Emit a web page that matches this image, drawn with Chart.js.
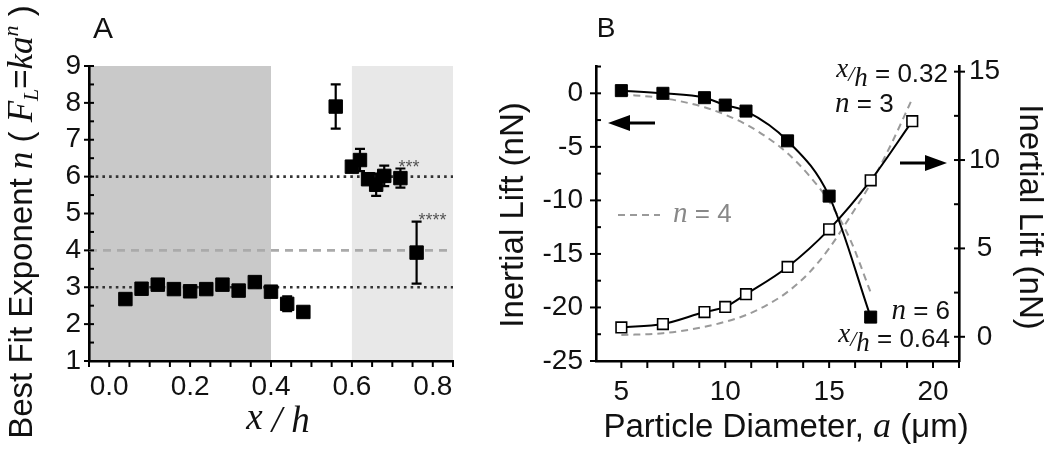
<!DOCTYPE html>
<html>
<head>
<meta charset="utf-8">
<script src="https://cdn.jsdelivr.net/npm/chart.js@4.4.1/dist/chart.umd.min.js"></script>
<style>
  html, body { margin: 0; padding: 0; background: #fff; }
  #wrap { position: relative; width: 1050px; height: 452px; overflow: hidden; }
  #boxA { position: absolute; left: 0; top: 0; }
  #boxB { position: absolute; left: 480px; top: 0; }
</style>
</head>
<body>
<div id="wrap">
  <div id="boxA"><canvas id="chartA" width="480" height="452"></canvas></div>
  <div id="boxB"><canvas id="chartB" width="570" height="452"></canvas></div>
</div>
<script>
// ---- Panel A: best fit exponent vs x/h ----
const aPos = [0.04, 0.08, 0.12, 0.16, 0.20, 0.24, 0.28, 0.32, 0.36, 0.40, 0.44, 0.48,
              0.56, 0.60, 0.62, 0.64, 0.66, 0.68, 0.72, 0.76];
const aExp = [2.68, 2.96, 3.07, 2.95, 2.89, 2.95, 3.07, 2.91, 3.14, 2.88, 2.55, 2.33,
              7.90, 6.27, 6.45, 5.93, 5.78, 6.02, 5.96, 3.94];
const aErr = [0, 0, 0, 0, 0, 0, 0, 0, 0, 0, 0.2, 0.12,
              0.6, 0.12, 0.3, 0.12, 0.3, 0.28, 0.26, 0.84];
const aStars = { 18: '***', 19: '****' };   // significance marks by point index
const aBandFrom = [-0.05, 0.6];
const aBandTo = [0.4, 0.85];
const aDotted = [3, 6];
const aDashed = [4];
const aXLabels = [0.0, 0.2, 0.4, 0.6, 0.8];
const aYLabels = [1, 2, 3, 4, 5, 6, 7, 8, 9];

// ---- Panel B: inertial lift vs particle diameter ----
const bDiam = [5, 7, 9, 10, 11, 13, 15, 17];
const bLiftFar = [0.25, 0.0, -0.41, -1.1, -1.66, -4.44, -9.6, -20.9];        // x/h = 0.64, left axis
const bDiamOpen = [5, 7, 9, 10, 11, 13, 15, 17, 19];
const bLiftNear = [0.53, 0.72, 1.40, 1.69, 2.41, 3.95, 6.08, 8.85, 12.2];    // x/h = 0.32, right axis
const bFitDiamFar = [5, 7, 9, 10, 11, 12, 13, 14, 15, 16, 17];
const bFitFar = [-0.1, -0.45, -1.3, -2.0, -2.9, -4.1, -5.6, -7.6, -10.1, -13.6, -18.6];
const bFitDiamNear = [5, 7, 9, 10, 11, 12, 13, 14, 15, 16, 17, 18, 19];
const bFitNear = [0.1, 0.2, 0.56, 0.85, 1.23, 1.79, 2.54, 3.58, 5.0, 6.78, 8.67, 10.93, 13.47];
const bXLabels = [5, 10, 15, 20];
const bYLLabels = [-25, -20, -15, -10, -5, 0];
const bYRLabels = [0, 5, 10, 15];

const SANS = '"Liberation Sans", Arial, Helvetica, sans-serif';
const SERIF = '"Liberation Serif", "Times New Roman", serif';
const f = (size, italic, fam) => (italic ? 'italic ' : '') + size + 'px ' + (fam || SANS);
const INK = '#111';

Chart.defaults.font.family = SANS;
Chart.defaults.color = INK;

function drawRich(ctx, parts, x, y, align, rot) {
  ctx.save();
  ctx.translate(x, y);
  if (rot) ctx.rotate(rot);
  ctx.textAlign = 'left';
  ctx.textBaseline = 'alphabetic';
  let w = 0;
  parts.forEach(p => { ctx.font = p.f; p.w = ctx.measureText(p.t).width; w += p.w; });
  let cx = align === 'right' ? -w : align === 'center' ? -w / 2 : 0;
  parts.forEach(p => {
    ctx.font = p.f;
    ctx.fillStyle = p.c || INK;
    ctx.fillText(p.t, cx, p.dy || 0);
    cx += p.w;
  });
  ctx.restore();
}

// tick marks: major ones cross the axis, minor ones point inward (y) / outward (x)
function drawTicks(chart, spec) {
  const ctx = chart.ctx;
  ctx.save();
  ctx.strokeStyle = '#000';
  ctx.lineWidth = 2;
  Object.keys(spec).forEach(id => {
    const s = chart.scales[id];
    const t = spec[id];
    const n = Math.round((t.to - t.from) / t.step);
    for (let i = 0; i <= n; i++) {
      const v = +(t.from + i * t.step).toFixed(4);
      if (v < s.min - 1e-6 || v > s.max + 1e-6) continue;
      const p = s.getPixelForValue(v);
      const major = t.major.includes(v);
      ctx.beginPath();
      if (s.isHorizontal()) {
        ctx.moveTo(p, s.top);
        ctx.lineTo(p, s.top + t.out);
      } else {
        const edge = s.position === 'left' ? s.right : s.left;
        const dir = s.position === 'left' ? -1 : 1;
        ctx.moveTo(edge - dir * t.inn, p);
        ctx.lineTo(edge + dir * (major ? t.out : 0), p);
      }
      ctx.stroke();
    }
  });
  ctx.restore();
}

// ================= chart A =================
const panelA = {
  id: 'panelA',
  beforeDraw(chart) {
    const { ctx, chartArea: ca, scales: { x } } = chart;
    const shades = ['#c9c9c9', '#e8e8e8'];
    ctx.save();
    aBandFrom.forEach((from, i) => {
      const x0 = x.getPixelForValue(from), x1 = x.getPixelForValue(aBandTo[i]);
      ctx.fillStyle = shades[i];
      ctx.fillRect(x0, ca.top, x1 - x0, ca.bottom - ca.top);
    });
    ctx.restore();
  },
  afterDatasetsDraw(chart) {
    const { ctx, scales: { x, y } } = chart;
    ctx.save();
    ctx.strokeStyle = '#000';
    ctx.lineWidth = 2.2;
    aPos.forEach((v, i) => {
      if (!aErr[i]) return;
      const px = x.getPixelForValue(v);
      const hi = y.getPixelForValue(aExp[i] + aErr[i]);
      const lo = y.getPixelForValue(aExp[i] - aErr[i]);
      ctx.beginPath();
      ctx.moveTo(px, hi); ctx.lineTo(px, lo);
      ctx.moveTo(px - 5, hi); ctx.lineTo(px + 5, hi);
      ctx.moveTo(px - 5, lo); ctx.lineTo(px + 5, lo);
      ctx.stroke();
    });
    ctx.fillStyle = '#555';
    ctx.font = f(18);
    ctx.textAlign = 'left';
    ctx.textBaseline = 'alphabetic';
    Object.keys(aStars).forEach(k => {
      const i = +k;
      const px = x.getPixelForValue(aPos[i]);
      const py = y.getPixelForValue(aExp[i] + aErr[i]);
      ctx.fillText(aStars[k], px - 2 + i % 2 * 4, py + 4);
    });
    ctx.restore();
  },
  afterDraw(chart) {
    const ctx = chart.ctx;
    drawTicks(chart, {
      x: { from: -0.05, to: 0.85, step: 0.05, major: [], out: 6, inn: 0 },
      y: { from: 1, to: 9, step: 0.5, major: aYLabels, out: 5, inn: 5 }
    });
    drawRich(ctx, [{ t: 'A', f: f(30) }], 103, 38, 'center');
    drawRich(ctx, [
      { t: 'Best Fit Exponent ', f: f(33) },
      { t: 'n', f: f(35, true, SERIF) },
      { t: ' ( ', f: f(33) },
      { t: 'F', f: f(35, true, SERIF) },
      { t: 'L', f: f(22, true, SERIF), dy: 6 },
      { t: '=', f: f(33) },
      { t: 'ka', f: f(35, true, SERIF) },
      { t: 'n', f: f(22, true, SERIF), dy: -14 },
      { t: ' )', f: f(33) }
    ], 32, 222, 'center', -Math.PI / 2);
    drawRich(ctx, [
      { t: 'x', f: f(37, true, SERIF), dy: -3 },
      { t: ' / ', f: f(37, true, SERIF) },
      { t: 'h', f: f(37, true, SERIF) }
    ], 278, 432, 'center');
  }
};

const refSet = (v, style) => Object.assign({
  data: [{ x: -0.05, y: v }, { x: 0.85, y: v }],
  showLine: true, pointRadius: 0, order: 5
}, style);

new Chart(document.getElementById('chartA'), {
  type: 'scatter',
  data: {
    datasets: [
      ...aDotted.map(v => refSet(v, { borderColor: '#333', borderWidth: 2.6, borderDash: [2.6, 4.1] })),
      ...aDashed.map(v => refSet(v, { borderColor: '#aaa', borderWidth: 2.6, borderDash: [8, 6] })),
      {
        data: aPos.map((v, i) => ({ x: v, y: aExp[i] })),
        pointStyle: 'rect', pointRadius: 9.5, pointBackgroundColor: '#000', pointBorderColor: '#000',
        pointBorderWidth: 1, order: 1
      }
    ]
  },
  options: {
    responsive: false, animation: false, devicePixelRatio: 1,
    layout: { padding: { top: 66, right: 27, left: 0, bottom: 0 } },
    plugins: { legend: { display: false }, tooltip: { enabled: false } },
    scales: {
      x: {
        type: 'linear', min: -0.05, max: 0.85,
        afterFit: s => { s.height = 91; },
        afterBuildTicks: s => { s.ticks = aXLabels.map(v => ({ value: v })); },
        grid: { display: true, drawOnChartArea: false, drawTicks: false },
        border: { display: true, color: '#000', width: 2.6 },
        ticks: { font: { size: 28 }, padding: 9, maxRotation: 0, callback: v => v.toFixed(1) }
      },
      y: {
        min: 1, max: 9,
        afterFit: s => { s.width = 89; },
        afterBuildTicks: s => { s.ticks = aYLabels.map(v => ({ value: v })); },
        grid: { display: true, drawOnChartArea: false, drawTicks: false },
        border: { display: true, color: '#000', width: 2.6 },
        ticks: { font: { size: 28 }, padding: 8 }
      }
    }
  },
  plugins: [panelA]
});

// ================= chart B =================
const panelB = {
  id: 'panelB',
  afterDraw(chart) {
    const ctx = chart.ctx;
    drawTicks(chart, {
      x: { from: 3.75, to: 21.25, step: 1.25, major: [], out: 7, inn: 0 },
      yL: { from: -25, to: 2.5, step: 2.5, major: bYLLabels, out: 6, inn: 5 },
      yR: { from: 0, to: 15, step: 2.5, major: bYRLabels, out: 6, inn: 5 }
    });
    drawRich(ctx, [{ t: 'B', f: f(28) }], 126, 37, 'center');
    drawRich(ctx, [{ t: 'Inertial Lift (nN)', f: f(33) }], 43, 215, 'center', -Math.PI / 2);
    drawRich(ctx, [{ t: 'Inertial Lift (nN)', f: f(33) }], 540, 217, 'center', Math.PI / 2);
    drawRich(ctx, [
      { t: 'Particle Diameter, ', f: f(33) },
      { t: 'a', f: f(36, true, SERIF) },
      { t: ' (\u03bcm)', f: f(33) }
    ], 306, 437, 'center');

    const xh = (tail) => [
      { t: 'x', f: f(27, true, SERIF), dy: -5 },
      { t: '/', f: f(22, true, SERIF), dy: -1 },
      { t: 'h', f: f(27, true, SERIF), dy: 4 },
      { t: tail, f: f(26) }
    ];
    drawRich(ctx, xh(' = 0.32'), 468, 82, 'right');
    drawRich(ctx, [{ t: 'n', f: f(29, true, SERIF) }, { t: ' = 3', f: f(26) }], 355, 112, 'left');
    drawRich(ctx, [{ t: 'n', f: f(29, true, SERIF) }, { t: ' = 6', f: f(26) }], 470, 319, 'right');
    drawRich(ctx, xh(' = 0.64'), 470, 347, 'right');

    // "n = 4" key for the dashed fits
    ctx.save();
    ctx.strokeStyle = '#9a9a9a';
    ctx.lineWidth = 2;
    ctx.setLineDash([7, 5]);
    ctx.beginPath(); ctx.moveTo(138, 215); ctx.lineTo(180, 215); ctx.stroke();
    ctx.restore();
    drawRich(ctx, [{ t: 'n', f: f(29, true, SERIF), c: '#888' }, { t: ' = 4', f: f(26), c: '#888' }], 193, 222, 'left');

    // direction arrows
    const arrow = (x0, x1, y) => {
      const dir = Math.sign(x1 - x0);
      ctx.save();
      ctx.fillStyle = '#000'; ctx.strokeStyle = '#000'; ctx.lineWidth = 3;
      ctx.beginPath(); ctx.moveTo(x0, y); ctx.lineTo(x1 - dir * 15, y); ctx.stroke();
      ctx.beginPath();
      ctx.moveTo(x1, y); ctx.lineTo(x1 - dir * 22, y - 8); ctx.lineTo(x1 - dir * 22, y + 8);
      ctx.closePath(); ctx.fill();
      ctx.restore();
    };
    arrow(175, 128, 123);
    arrow(420, 467, 163);
  }
};

const lineXY = (xs, ys) => xs.map((v, i) => ({ x: v, y: ys[i] }));

new Chart(document.getElementById('chartB'), {
  type: 'scatter',
  data: {
    datasets: [
      { data: lineXY(bFitDiamFar, bFitFar), yAxisID: 'yL', showLine: true, pointRadius: 0,
        borderColor: '#9a9a9a', borderWidth: 2, borderDash: [7, 5], cubicInterpolationMode: 'monotone', order: 4 },
      { data: lineXY(bFitDiamNear, bFitNear), yAxisID: 'yR', showLine: true, pointRadius: 0,
        borderColor: '#9a9a9a', borderWidth: 2, borderDash: [7, 5], cubicInterpolationMode: 'monotone', order: 3 },
      { data: lineXY(bDiamOpen, bLiftNear), yAxisID: 'yR', showLine: true, borderColor: '#000', borderWidth: 2,
        cubicInterpolationMode: 'monotone', pointStyle: 'rect', pointRadius: 7.5,
        pointBackgroundColor: '#fff', pointBorderColor: '#000', pointBorderWidth: 1.6, order: 2 },
      { data: lineXY(bDiam, bLiftFar), yAxisID: 'yL', showLine: true, borderColor: '#000', borderWidth: 2,
        cubicInterpolationMode: 'monotone', pointStyle: 'rect', pointRadius: 8.5,
        pointBackgroundColor: '#000', pointBorderColor: '#000', pointBorderWidth: 1, order: 1 }
    ]
  },
  options: {
    responsive: false, animation: false, devicePixelRatio: 1,
    layout: { padding: { top: 66, right: 0, left: 0, bottom: 0 } },
    plugins: { legend: { display: false }, tooltip: { enabled: false } },
    scales: {
      x: {
        type: 'linear', min: 3.78, max: 21.25,
        afterFit: s => { s.height = 91; },
        afterBuildTicks: s => { s.ticks = bXLabels.map(v => ({ value: v })); },
        grid: { display: true, drawOnChartArea: false, drawTicks: false },
        border: { display: true, color: '#000', width: 2.6 },
        ticks: { font: { size: 28 }, padding: 14, maxRotation: 0 }
      },
      yL: {
        position: 'left', min: -25, max: 2.55,
        afterFit: s => { s.width = 116; },
        afterBuildTicks: s => { s.ticks = bYLLabels.map(v => ({ value: v })); },
        grid: { display: true, drawOnChartArea: false, drawTicks: false },
        border: { display: true, color: '#000', width: 2.6 },
        ticks: { font: { size: 28 }, padding: 13 }
      },
      yR: {
        position: 'right', min: -1.37, max: 15.32,
        afterFit: s => { s.width = 91; },
        afterBuildTicks: s => { s.ticks = bYRLabels.map(v => ({ value: v })); },
        grid: { display: true, drawOnChartArea: false, drawTicks: false },
        border: { display: true, color: '#000', width: 2.6 },
        ticks: { font: { size: 28 }, padding: 10, crossAlign: 'center' }
      }
    }
  },
  plugins: [panelB]
});
</script>
</body>
</html>
